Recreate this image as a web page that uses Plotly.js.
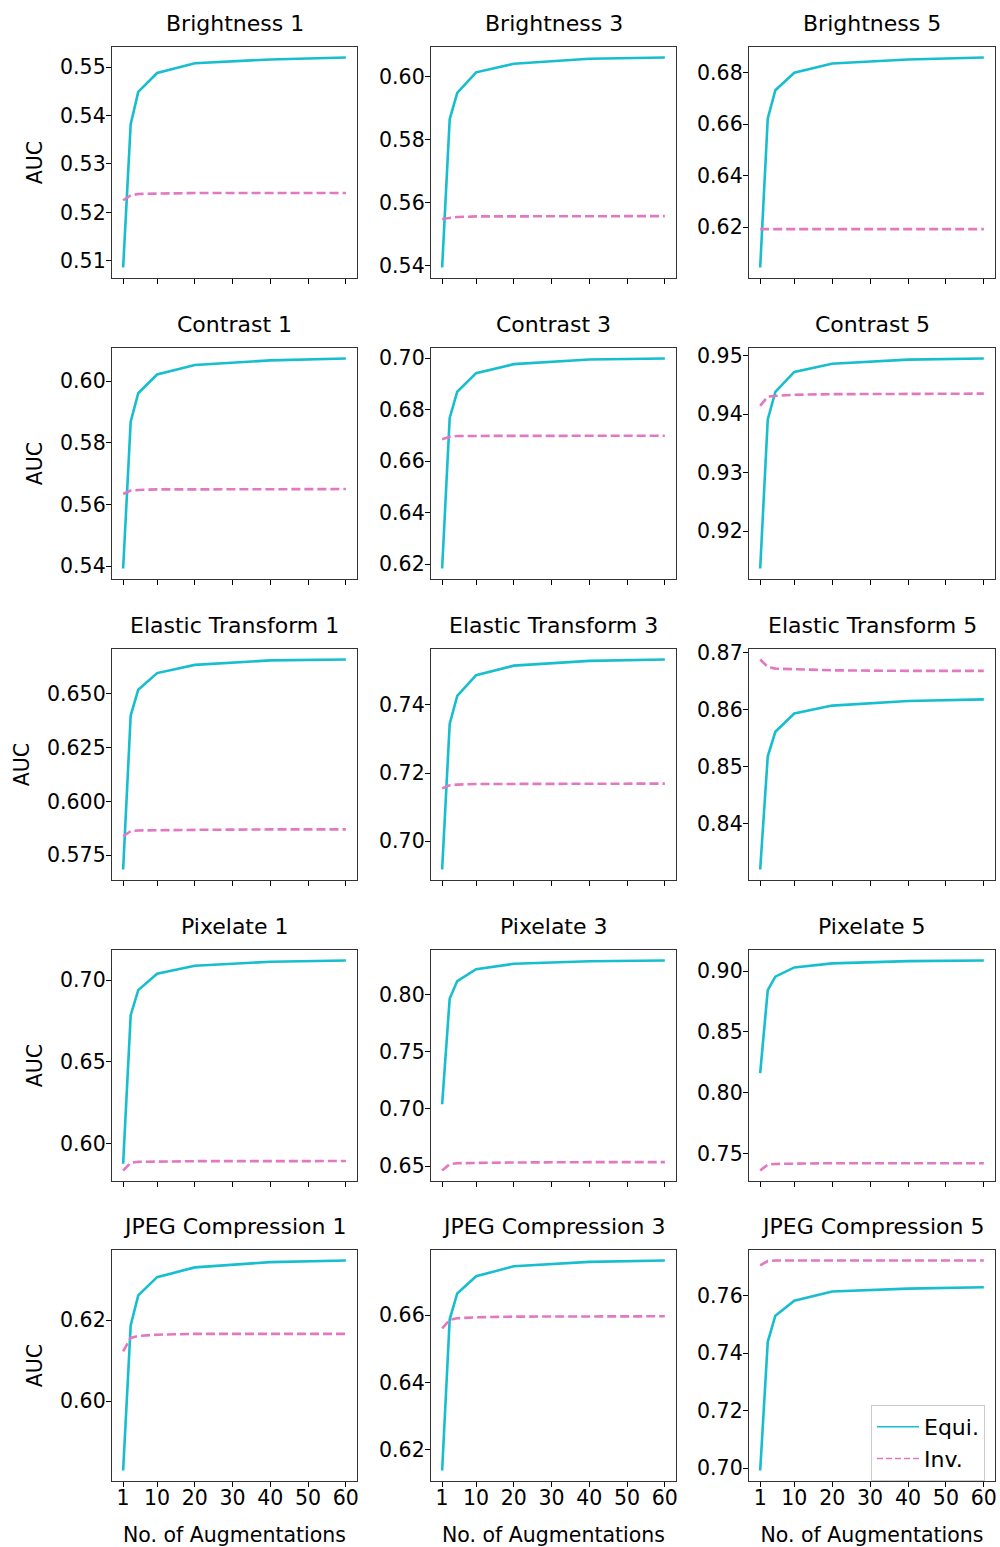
<!DOCTYPE html>
<html>
<head>
<meta charset="utf-8">
<script src="https://cdn.plot.ly/plotly-3.0.1.min.js"></script>
<style>html,body{margin:0;padding:0;background:#fff;}#chart{width:1000px;height:1547px;}</style>
</head>
<body>
<div id="chart"></div>
<script>
// ---- data ----
const augmentations = [1, 3, 5, 10, 20, 40, 60];
const xTickVals = [1, 10, 20, 30, 40, 50, 60];

const panelTitles = [
  "Brightness 1", "Brightness 3", "Brightness 5",
  "Contrast 1", "Contrast 3", "Contrast 5",
  "Elastic Transform 1", "Elastic Transform 3", "Elastic Transform 5",
  "Pixelate 1", "Pixelate 3", "Pixelate 5",
  "JPEG Compression 1", "JPEG Compression 3", "JPEG Compression 5"
];

const equiBrightness1 = [0.5086, 0.5382, 0.5449, 0.5488, 0.5508, 0.5516, 0.5520];
const invBrightness1  = [0.5225, 0.5235, 0.5238, 0.5239, 0.5240, 0.5240, 0.5240];
const equiBrightness3 = [0.5395, 0.5865, 0.5949, 0.6014, 0.6041, 0.6057, 0.6061];
const invBrightness3  = [0.5549, 0.5553, 0.5555, 0.5557, 0.5557, 0.5557, 0.5558];
const equiBrightness5 = [0.6043, 0.6622, 0.6732, 0.6800, 0.6836, 0.6851, 0.6859];
const invBrightness5  = [0.6192, 0.6192, 0.6192, 0.6192, 0.6192, 0.6192, 0.6192];

const equiContrast1 = [0.5392, 0.5869, 0.5961, 0.6022, 0.6053, 0.6068, 0.6074];
const invContrast1  = [0.5634, 0.5645, 0.5647, 0.5649, 0.5649, 0.5650, 0.5650];
const equiContrast3 = [0.6183, 0.6768, 0.6870, 0.6942, 0.6977, 0.6995, 0.6999];
const invContrast3  = [0.6685, 0.6695, 0.6698, 0.6698, 0.6698, 0.6699, 0.6699];
const equiContrast5 = [0.9136, 0.9391, 0.9438, 0.9472, 0.9486, 0.9493, 0.9495];
const invContrast5  = [0.9414, 0.9430, 0.9431, 0.9433, 0.9434, 0.9435, 0.9435];

const equiElastic1 = [0.5684, 0.6398, 0.6518, 0.6595, 0.6633, 0.6654, 0.6658];
const invElastic1  = [0.5838, 0.5862, 0.5865, 0.5867, 0.5868, 0.5870, 0.5870];
const equiElastic3 = [0.6917, 0.7344, 0.7426, 0.7487, 0.7515, 0.7529, 0.7533];
const invElastic3  = [0.7155, 0.7164, 0.7166, 0.7168, 0.7168, 0.7169, 0.7169];
const equiElastic5 = [0.8319, 0.8518, 0.8561, 0.8593, 0.8607, 0.8615, 0.8618];
const invElastic5  = [0.8688, 0.8675, 0.8672, 0.8671, 0.8669, 0.8668, 0.8668];

const equiPixelate1 = [0.5878, 0.6786, 0.6939, 0.7039, 0.7088, 0.7112, 0.7120];
const invPixelate1  = [0.5837, 0.5884, 0.5890, 0.5892, 0.5894, 0.5894, 0.5895];
const equiPixelate3 = [0.7041, 0.7965, 0.8117, 0.8221, 0.8268, 0.8291, 0.8297];
const invPixelate3  = [0.6462, 0.6518, 0.6526, 0.6529, 0.6532, 0.6535, 0.6535];
const equiPixelate5 = [0.8161, 0.8844, 0.8954, 0.9030, 0.9063, 0.9082, 0.9087];
const invPixelate5  = [0.7361, 0.7410, 0.7415, 0.7418, 0.7421, 0.7421, 0.7421];

const equiJpeg1 = [0.5829, 0.6187, 0.6261, 0.6306, 0.6330, 0.6343, 0.6347];
const invJpeg1  = [0.6123, 0.6156, 0.6161, 0.6164, 0.6166, 0.6166, 0.6166];
const equiJpeg3 = [0.6138, 0.6588, 0.6665, 0.6716, 0.6746, 0.6759, 0.6763];
const invJpeg3  = [0.6561, 0.6586, 0.6591, 0.6594, 0.6596, 0.6597, 0.6597];
const equiJpeg5 = [0.6992, 0.7440, 0.7531, 0.7583, 0.7615, 0.7625, 0.7630];
const invJpeg5  = [0.7706, 0.7721, 0.7723, 0.7723, 0.7723, 0.7723, 0.7723];

const yTicksBrightness1 = [0.51, 0.52, 0.53, 0.54, 0.55];
const yTicksBrightness3 = [0.54, 0.56, 0.58, 0.60];
const yTicksBrightness5 = [0.62, 0.64, 0.66, 0.68];
const yTicksContrast1 = [0.54, 0.56, 0.58, 0.60];
const yTicksContrast3 = [0.62, 0.64, 0.66, 0.68, 0.70];
const yTicksContrast5 = [0.92, 0.93, 0.94, 0.95];
const yTicksElastic1 = [0.575, 0.600, 0.625, 0.650];
const yTicksElastic3 = [0.70, 0.72, 0.74];
const yTicksElastic5 = [0.84, 0.85, 0.86, 0.87];
const yTicksPixelate1 = [0.60, 0.65, 0.70];
const yTicksPixelate3 = [0.65, 0.70, 0.75, 0.80];
const yTicksPixelate5 = [0.75, 0.80, 0.85, 0.90];
const yTicksJpeg1 = [0.60, 0.62];
const yTicksJpeg3 = [0.62, 0.64, 0.66];
const yTicksJpeg5 = [0.70, 0.72, 0.74, 0.76];

const seriesNames = ["Equi.", "Inv."];
const xAxisLabel = "No. of Augmentations";
const yAxisLabel = "AUC";

// ---- assembly ----
const equiAll = [equiBrightness1, equiBrightness3, equiBrightness5, equiContrast1, equiContrast3, equiContrast5,
  equiElastic1, equiElastic3, equiElastic5, equiPixelate1, equiPixelate3, equiPixelate5, equiJpeg1, equiJpeg3, equiJpeg5];
const invAll = [invBrightness1, invBrightness3, invBrightness5, invContrast1, invContrast3, invContrast5,
  invElastic1, invElastic3, invElastic5, invPixelate1, invPixelate3, invPixelate5, invJpeg1, invJpeg3, invJpeg5];
const yTicksAll = [yTicksBrightness1, yTicksBrightness3, yTicksBrightness5, yTicksContrast1, yTicksContrast3, yTicksContrast5,
  yTicksElastic1, yTicksElastic3, yTicksElastic5, yTicksPixelate1, yTicksPixelate3, yTicksPixelate5, yTicksJpeg1, yTicksJpeg3, yTicksJpeg5];

const W = 1000, H = 1547;
const colPx = [[112, 357], [431, 676], [749, 995]];
const rowPx = [[47, 278], [348, 579], [649, 880], [950, 1181], [1250, 1481]];
const EQUI_COLOR = "#17becf", INV_COLOR = "#e377c2";
const FONT = "DejaVu Sans, Arial, sans-serif";
const TICK_SIZE = 20.5;

const traces = [];
const layout = {
  width: W, height: H,
  margin: {l: 0, r: 0, t: 0, b: 0},
  paper_bgcolor: "#fff", plot_bgcolor: "#fff",
  font: {family: FONT, color: "#000", size: TICK_SIZE},
  showlegend: true,
  legend: {
    x: 0.985, y: (H - 1481) / H, xanchor: "right", yanchor: "bottom",
    bgcolor: "rgba(255,255,255,0.8)", bordercolor: "#cccccc", borderwidth: 1,
    font: {family: FONT, size: 22, color: "#000"},
    traceorder: "normal", itemwidth: 42, tracegroupgap: 4
  },
  annotations: []
};

for (let i = 0; i < 15; i++) {
  const r = Math.floor(i / 3), c = i % 3;
  const sfx = i === 0 ? "" : String(i + 1);
  const xa = "x" + sfx, ya = "y" + sfx;
  const lo = Math.min(...equiAll[i], ...invAll[i]);
  const hi = Math.max(...equiAll[i], ...invAll[i]);
  const pad = (hi - lo) * 0.05;
  const xpad = (augmentations[augmentations.length - 1] - augmentations[0]) * 0.05;
  const fmt = yTicksAll[i].some(v => Math.abs(v * 100 - Math.round(v * 100)) > 1e-6) ? ".3f" : ".2f";

  traces.push({x: augmentations, y: equiAll[i], xaxis: xa, yaxis: ya, type: "scatter", mode: "lines",
    line: {color: EQUI_COLOR, width: 2.6}, name: seriesNames[0], showlegend: false, hoverinfo: "skip"});
  traces.push({x: augmentations, y: invAll[i], xaxis: xa, yaxis: ya, type: "scatter", mode: "lines",
    line: {color: INV_COLOR, width: 2.6, dash: "9px,4px"}, name: seriesNames[1], showlegend: false, hoverinfo: "skip"});

  const bottom = r === 4;
  layout["xaxis" + sfx] = {
    domain: [colPx[c][0] / W, colPx[c][1] / W], anchor: ya,
    range: [augmentations[0] - xpad, augmentations[augmentations.length - 1] + xpad],
    tickmode: "array", tickvals: xTickVals, showticklabels: bottom,
    ticks: "outside", ticklen: 5, tickwidth: 1, tickcolor: "#000",
    ticklabelstandoff: -7,
    showline: true, mirror: true, linecolor: "#333", linewidth: 1.2,
    showgrid: false, zeroline: false, fixedrange: true,
    tickfont: {family: FONT, size: TICK_SIZE, color: "#000"},
    title: bottom ? {text: xAxisLabel, font: {family: FONT, size: 20.5, color: "#000"}, standoff: 22} : {text: ""}
  };
  layout["yaxis" + sfx] = {
    domain: [1 - rowPx[r][1] / H, 1 - rowPx[r][0] / H], anchor: xa,
    range: [lo - pad, hi + pad],
    tickmode: "array", tickvals: yTicksAll[i], tickformat: fmt,
    ticks: "outside", ticklen: 5, tickwidth: 1, tickcolor: "#000",
    ticklabelstandoff: -4,
    showline: true, mirror: true, linecolor: "#333", linewidth: 1.2,
    showgrid: false, zeroline: false, fixedrange: true,
    tickfont: {family: FONT, size: TICK_SIZE, color: "#000"},
    title: c === 0 ? {text: yAxisLabel, font: {family: FONT, size: 20.5, color: "#000"}, standoff: 11} : {text: ""}
  };
  layout.annotations.push({
    text: panelTitles[i], xref: "paper", yref: "paper",
    x: (colPx[c][0] + colPx[c][1]) / 2 / W, y: 1 - rowPx[r][0] / H,
    xanchor: "center", yanchor: "bottom", yshift: 9, showarrow: false,
    font: {family: FONT, size: 22, color: "#000"}
  });
}

// legend-only entries (thin lines, as in the reference legend)
traces.push({x: [null], y: [null], xaxis: "x15", yaxis: "y15", type: "scatter", mode: "lines",
  line: {color: EQUI_COLOR, width: 1.5}, name: seriesNames[0], showlegend: true, hoverinfo: "skip"});
traces.push({x: [null], y: [null], xaxis: "x15", yaxis: "y15", type: "scatter", mode: "lines",
  line: {color: INV_COLOR, width: 1.5, dash: "6px,3px"}, name: seriesNames[1], showlegend: true, hoverinfo: "skip"});

Plotly.newPlot("chart", traces, layout, {staticPlot: true, displayModeBar: false});
</script>
</body>
</html>
